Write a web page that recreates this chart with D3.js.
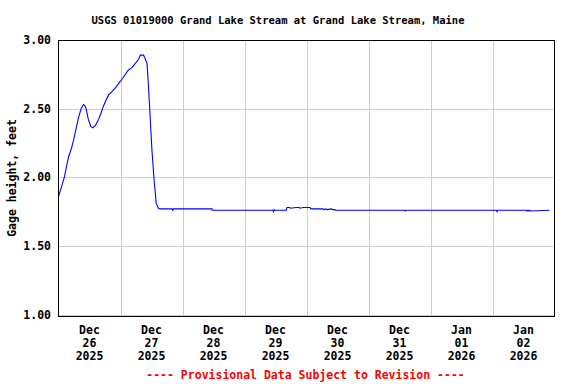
<!DOCTYPE html>
<html>
<head>
<meta charset="utf-8">
<script src="https://cdn.jsdelivr.net/npm/d3@7"></script>
<style>
  html, body { margin: 0; padding: 0; background: #fff; }
  svg { display: block; }
  text { font-family: "DejaVu Sans Mono", "Liberation Mono", monospace; font-weight: bold; }
</style>
</head>
<body>
<svg id="chart" width="576" height="384"></svg>
<script>
// ---- data ----
const title = "USGS 01019000 Grand Lake Stream at Grand Lake Stream, Maine";
const yLabel = "Gage height, feet";
const footer = "---- Provisional Data Subject to Revision ----";
const yTicks = [1.0, 1.5, 2.0, 2.5, 3.0];
const dayTicks = ["2025-12-26","2025-12-27","2025-12-28","2025-12-29","2025-12-30","2025-12-31","2026-01-01","2026-01-02"];
const times = [
  "2025-12-26 00:00","2025-12-26 01:00","2025-12-26 02:15","2025-12-26 03:00","2025-12-26 03:55",
  "2025-12-26 05:00","2025-12-26 05:50","2025-12-26 06:45","2025-12-26 07:40","2025-12-26 08:45",
  "2025-12-26 09:40","2025-12-26 10:15","2025-12-26 10:40","2025-12-26 11:35","2025-12-26 12:30",
  "2025-12-26 13:20","2025-12-26 14:20","2025-12-26 15:30","2025-12-26 16:30","2025-12-26 17:25",
  "2025-12-26 18:20","2025-12-26 19:25","2025-12-26 20:30","2025-12-26 21:55","2025-12-27 00:00",
  "2025-12-27 01:30","2025-12-27 03:00","2025-12-27 04:30","2025-12-27 05:45","2025-12-27 07:00",
  "2025-12-27 07:40","2025-12-27 08:55","2025-12-27 09:40","2025-12-27 10:15","2025-12-27 10:45",
  "2025-12-27 11:15","2025-12-27 12:10","2025-12-27 13:00","2025-12-27 13:50","2025-12-27 14:40",
  "2025-12-27 15:25","2025-12-27 20:00","2025-12-27 20:15","2025-12-27 20:30","2025-12-28 11:25",
  "2025-12-28 11:30","2025-12-29 11:00","2025-12-29 11:15","2025-12-29 11:30","2025-12-29 11:45",
  "2025-12-29 16:15","2025-12-29 16:25","2025-12-29 17:30","2025-12-29 17:45","2025-12-29 20:00",
  "2025-12-29 21:10","2025-12-29 21:30","2025-12-29 22:45","2025-12-29 23:00","2025-12-30 01:25",
  "2025-12-30 01:40","2025-12-30 06:25","2025-12-30 06:40","2025-12-30 07:30","2025-12-30 07:45",
  "2025-12-30 09:45","2025-12-30 10:00","2025-12-30 11:00","2025-12-30 11:15","2025-12-31 14:00",
  "2025-12-31 14:15","2025-12-31 14:30","2026-01-02 01:30","2026-01-02 01:45","2026-01-02 02:00",
  "2026-01-02 13:00","2026-01-02 13:15","2026-01-02 13:45","2026-01-02 14:00","2026-01-02 14:30",
  "2026-01-02 14:45","2026-01-02 22:05"
];
const gage = [
  1.86,1.92,2.00,2.07,2.15,
  2.21,2.27,2.35,2.43,2.50,
  2.53,2.52,2.50,2.42,2.37,
  2.36,2.38,2.42,2.47,2.52,
  2.56,2.60,2.62,2.65,2.70,
  2.74,2.78,2.80,2.83,2.86,
  2.89,2.89,2.86,2.83,2.69,
  2.52,2.20,1.98,1.81,1.775,
  1.77,1.77,1.76,1.77,1.77,
  1.76,1.76,1.75,1.765,1.76,
  1.76,1.78,1.78,1.775,1.78,
  1.78,1.775,1.78,1.78,1.78,
  1.77,1.77,1.765,1.77,1.765,
  1.77,1.765,1.765,1.76,1.76,
  1.755,1.76,1.76,1.75,1.76,
  1.76,1.755,1.76,1.755,1.76,
  1.755,1.76
];

// ---- chart ----
const svg = d3.select("#chart");
const W = 576, H = 384;
const m = { left: 58.5, right: 554.5, top: 40, bottom: 316 };
const parse = d3.timeParse("%Y-%m-%d %H:%M");
const parseDay = d3.timeParse("%Y-%m-%d");
const data = times.map((t, i) => ({ t: parse(t), v: gage[i] }));

const x = d3.scaleTime()
  .domain([parseDay("2025-12-26"), parseDay("2026-01-03")])
  .range([m.left, m.right]);
const y = d3.scaleLinear().domain([0.99, 3.0]).range([m.bottom, m.top]);

svg.append("rect").attr("width", W).attr("height", H).attr("fill", "#fff");

// grid
const gridX = dayTicks.map(parseDay).concat([parseDay("2026-01-03")]);
svg.append("g").selectAll("line").data(gridX.slice(1, -1)).join("line")
  .attr("x1", d => Math.round(x(d)) + 0.5).attr("x2", d => Math.round(x(d)) + 0.5)
  .attr("y1", m.top).attr("y2", m.bottom)
  .attr("stroke", "#cccccc").attr("stroke-width", 1);
svg.append("g").selectAll("line").data(yTicks).join("line")
  .attr("x1", m.left).attr("x2", m.right)
  .attr("y1", d => Math.round(y(d)) + 0.5).attr("y2", d => Math.round(y(d)) + 0.5)
  .attr("stroke", "#cccccc").attr("stroke-width", 1);

// line
const line = d3.line().x(d => x(d.t)).y(d => y(d.v));
svg.append("path").datum(data)
  .attr("d", line).attr("fill", "none")
  .attr("stroke", "#0000ff").attr("stroke-width", 1.1);

// frame
svg.append("rect")
  .attr("x", m.left).attr("y", m.top + 0.5)
  .attr("width", m.right - m.left).attr("height", m.bottom - m.top)
  .attr("fill", "none").attr("stroke", "#000").attr("stroke-width", 1);

// y tick labels
svg.append("g").selectAll("text").data(yTicks).join("text")
  .attr("x", 51).attr("y", d => y(d) + 4)
  .attr("text-anchor", "end").attr("font-size", 11.5).attr("fill", "#000")
  .text(d => d3.format(".2f")(d));

// x tick labels
const fmtM = d3.timeFormat("%b"), fmtD = d3.timeFormat("%d"), fmtY = d3.timeFormat("%Y");
const xl = svg.append("g").selectAll("text").data(dayTicks.map(parseDay)).join("text")
  .attr("text-anchor", "middle").attr("font-size", 11.5).attr("fill", "#000")
  .attr("transform", d => `translate(${x(d3.timeHour.offset(d, 12))},0)`);
xl.append("tspan").attr("x", 0).attr("y", 334).text(d => fmtM(d));
xl.append("tspan").attr("x", 0).attr("y", 347).text(d => fmtD(d));
xl.append("tspan").attr("x", 0).attr("y", 360).text(d => fmtY(d));

// title
svg.append("text").attr("x", 278).attr("y", 24)
  .attr("text-anchor", "middle").attr("font-size", 10.5).attr("fill", "#000")
  .text(title);

// y label
svg.append("text")
  .attr("transform", `translate(16,${(m.top + m.bottom) / 2}) rotate(-90)`)
  .attr("text-anchor", "middle").attr("font-size", 11.5).attr("fill", "#000")
  .text(yLabel);

// footer
svg.append("text").attr("x", 305.5).attr("y", 379)
  .attr("text-anchor", "middle").attr("font-size", 11.5).attr("fill", "#ff0000")
  .text(footer);
</script>
</body>
</html>
